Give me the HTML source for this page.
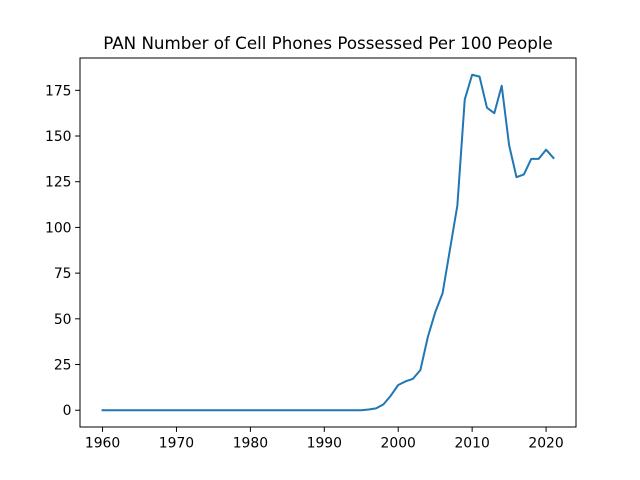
<!DOCTYPE html>
<html><head><meta charset="utf-8"><style>body{margin:0;background:#fff}svg{display:block;font-family:"DejaVu Sans","Liberation Sans",sans-serif}</style></head>
<body>
<svg id="c" width="640" height="480"></svg>
<script>
const years = [];
for (let y = 1960; y <= 2021; y++) years.push(y);
const earlyValues = new Array(36).fill(0); // 1960-1995
const lateValues = [0.4,1,3.2,8,13.8,15.8,17.2,22,40,53.5,64,88,112,170,183.5,182.5,165.5,162.5,177.5,145,127.5,129,137.5,137.5,142.5,138];
const values = earlyValues.concat(lateValues);
const xTicks = [1960,1970,1980,1990,2000,2010,2020];
const yTicks = [0,25,50,75,100,125,150,175];

const L=80,R=576,T=58,B=427;
const xmin=1956.95,xmax=2024.05,ymin=-9.175,ymax=192.675;
const sx=v=>L+(v-xmin)/(xmax-xmin)*(R-L);
const sy=v=>B-(v-ymin)/(ymax-ymin)*(B-T);
const svg=document.getElementById('c');
const NS='http://www.w3.org/2000/svg';
function mk(tag,attrs,parent){const e=document.createElementNS(NS,tag);for(const k in attrs)e.setAttribute(k,attrs[k]);(parent||svg).appendChild(e);return e;}

const title=mk('text',{x:328,y:49,'text-anchor':'middle','font-size':16.7,fill:'#000'});
title.textContent='PAN Number of Cell Phones Possessed Per 100 People';



const pts=years.map((y,i)=>sx(y).toFixed(2)+','+sy(values[i]).toFixed(2)).join(' ');
const line=mk('polyline',{points:pts,fill:'none',stroke:'#1f77b4','stroke-width':2,'stroke-linejoin':'round','stroke-linecap':'square'});



const frame=mk('rect',{x:L,y:T,width:R-L,height:B-T,fill:'none',stroke:'#000','stroke-width':1});



xTicks.forEach(t=>{
  const x=sx(t);
  mk('line',{x1:x,x2:x,y1:B,y2:B+4.9,stroke:'#000','stroke-width':1});
  const tx=mk('text',{x:x,y:B+20.5,'text-anchor':'middle','font-size':13.9,fill:'#000'});
  tx.textContent=t;
  
  
});
yTicks.forEach(t=>{
  const y=sy(t);
  mk('line',{x1:L-4.9,x2:L,y1:y,y2:y,stroke:'#000','stroke-width':1});
  const tx=mk('text',{x:L-8.5,y:y+5,'text-anchor':'end','font-size':13.9,fill:'#000'});
  tx.textContent=t;
  
  
});
</script>
</body></html>
